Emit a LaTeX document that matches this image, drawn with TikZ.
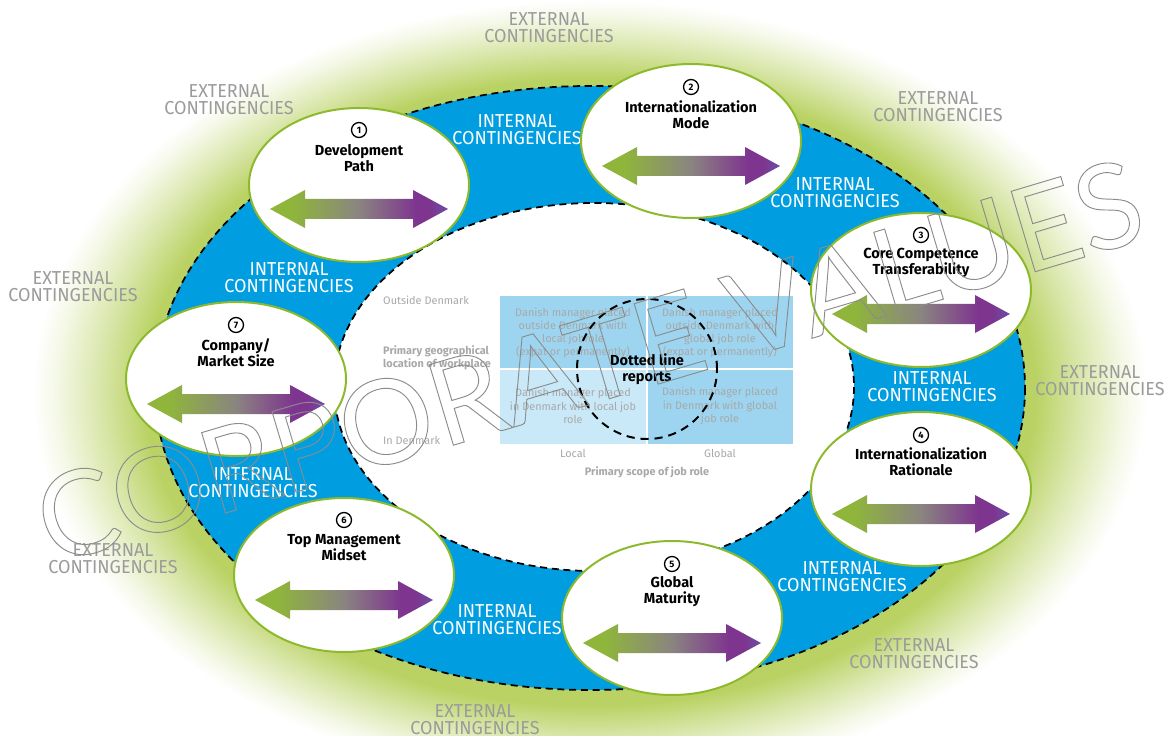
\documentclass[tikz,border=0pt]{standalone}
\usepackage{fontspec}
\setmainfont{Fira Sans}
\newfontfamily\condfont{Fira Sans}[FakeStretch=0.96]
\newfontfamily\cvfont{Lato}
\usetikzlibrary{shapes.geometric}
\definecolor{ringblue}{RGB}{0,158,224}
\definecolor{glowgreen}{RGB}{186,210,100}
\definecolor{bubgreen}{RGB}{141,185,45}
\definecolor{extgray}{RGB}{155,155,155}
\definecolor{chartgray}{RGB}{168,168,168}
\definecolor{boxdark}{RGB}{157,213,240}
\definecolor{boxlight}{RGB}{202,233,248}
\definecolor{agreen}{RGB}{143,182,58}
\definecolor{agray}{RGB}{138,132,128}
\definecolor{apurple}{RGB}{126,53,143}
\definecolor{atip}{RGB}{108,78,164}
\definecolor{cvgray}{RGB}{140,140,140}
\pgfdeclareradialshading{glow}{\pgfpoint{0bp}{0bp}}{color(0bp)=(glowgreen); color(19bp)=(glowgreen); color(20bp)=(glowgreen); color(22bp)=(glowgreen!55!white); color(24bp)=(glowgreen!15!white); color(25bp)=(white); color(50bp)=(white)}
\pgfdeclarehorizontalshading{arrowgrad}{100bp}{color(0bp)=(agreen); color(25bp)=(agreen); color(31bp)=(agreen); color(50bp)=(agray); color(66bp)=(apurple); color(70bp)=(apurple); color(75bp)=(atip); color(100bp)=(atip)}
\newcommand\outl{\special{pdf:literal direct 1 Tr 0.8 w}}
\tikzset{
  bubble/.style={ellipse, draw=bubgreen, line width=1.7pt, fill=white, minimum width=6.6cm, minimum height=4.62cm, inner sep=0pt},
  numc/.style={circle, draw=black, line width=1.1pt, minimum size=0.45cm, inner sep=0pt, font=\bfseries\fontsize{8}{8}\selectfont},
  ttl/.style={align=center, font=\bfseries\fontsize{12.4}{13.7}\selectfont, inner sep=0pt},
  intl/.style={align=center, text=white, font=\condfont\fontsize{16}{14.5}\selectfont, inner sep=0pt},
  extl/.style={intl, text=extgray},
  boxtxt/.style={align=center, text=chartgray, font=\fontsize{9.3}{11.3}\selectfont, inner sep=0pt},
  axtxt/.style={text=chartgray, font=\fontsize{9.3}{11.3}\selectfont, inner sep=0pt},
  axbold/.style={axtxt, font=\bfseries\fontsize{9.3}{11.3}\selectfont, align=left},
  ringdash/.style={line width=1.5pt, dash pattern=on 6pt off 4pt},
  darrow/.pic={\shade[shading=arrowgrad] (-89,0) -- (-54,-19) -- (-54,-10) -- (54,-10) -- (54,-19) -- (89,0) -- (54,19) -- (54,10) -- (-54,10) -- (-54,19) -- cycle;}
}
\begin{document}
\begin{tikzpicture}[x=0.03cm, y=-0.03cm]
\useasboundingbox (0,0) rectangle (1171,736);
\fill[white] (0,0) rectangle (1171,736);
% glow
\shade[shading=glow] (590,392) ellipse [x radius=557, y radius=392];
% ring
\fill[ringblue] (590,388) ellipse [x radius=435, y radius=302];
\draw[ringdash] (590,388) ellipse [x radius=435, y radius=302];
\fill[white] (594,387) ellipse [x radius=260, y radius=184];
\draw[ringdash] (594,387) ellipse [x radius=260, y radius=184];
% central chart
\fill[boxdark] (500,296) rectangle (793,444);
\fill[boxlight] (500,369) rectangle (647,444);
\draw[white, line width=1.2pt] (647,296) -- (647,444);
\draw[white, line width=1.2pt] (500,369) -- (793,369);
\node[boxtxt] (tl) at (573,333) {Danish manager placed\\outside Denmark with\\local jobrole\\(expat or permanently)};
\node[boxtxt] (tr) at (720,333) {Danish manager placed\\outside Denmark with\\global job role\\(expat or permanently)};
\node[boxtxt] (bl) at (573,406) {Danish manager placed\\in Denmark with local job\\role};
\node[boxtxt] (br) at (720,406) {Danish manager placed\\in Denmark with global\\job role};
\node[axtxt, anchor=west] (od) at (383,300) {Outside Denmark};
\node[axbold, anchor=west] (pg) at (383,358) {Primary geographical\\location of workplace};
\node[axtxt, anchor=west] (idk) at (383,440) {In Denmark};
\node[axtxt] (loc) at (573,453) {Local};
\node[axtxt] (glo) at (720,453) {Global};
\node[axbold] (ps) at (647,472) {Primary scope of job role};
\node[circle, draw=black, line width=1.7pt, dash pattern=on 7pt off 5pt, minimum size=4.2cm, inner sep=0pt] (dl) at (647,369) {};
\node[ttl] (dlt) at (647,369) {Dotted line\\reports};
% internal labels
\node[intl] (i1) at (517,130) {INTERNAL\\CONTINGENCIES};
\node[intl] (i2) at (835,193) {INTERNAL\\CONTINGENCIES};
\node[intl] (i3) at (289,278) {INTERNAL\\CONTINGENCIES};
\node[intl] (i4) at (932,387) {INTERNAL\\CONTINGENCIES};
\node[intl] (i5) at (253,483) {INTERNAL\\CONTINGENCIES};
\node[intl] (i6) at (842,577) {INTERNAL\\CONTINGENCIES};
\node[intl] (i7) at (497,620) {INTERNAL\\CONTINGENCIES};
% external labels
\node[extl] (x1) at (549,28) {EXTERNAL\\CONTINGENCIES};
\node[extl] (x2) at (229,100) {EXTERNAL\\CONTINGENCIES};
\node[extl] (x3) at (938,107) {EXTERNAL\\CONTINGENCIES};
\node[extl] (x4) at (73,287) {EXTERNAL\\CONTINGENCIES};
\node[extl] (x5) at (1100,381) {EXTERNAL\\CONTINGENCIES};
\node[extl] (x6) at (113,559) {EXTERNAL\\CONTINGENCIES};
\node[extl] (x7) at (914,654) {EXTERNAL\\CONTINGENCIES};
\node[extl] (x8) at (475,720) {EXTERNAL\\CONTINGENCIES};
% bubbles
\node[bubble] (e1) at (359,185) {};
\node[numc] (n1) at (359,130) {1};
\node[ttl] (t1) at (359,158) {Development\\Path};
\pic at (359,209) {darrow};
\node[bubble] (e2) at (691,141) {};
\node[numc] (n2) at (691,87) {2};
\node[ttl] (t2) at (691,115) {Internationalization\\Mode};
\pic at (691,166) {darrow};
\node[bubble] (e3) at (921,290) {};
\node[numc] (n3) at (921,235) {3};
\node[ttl] (t3) at (921,263) {Core Competence\\Transferability};
\pic at (921,314) {darrow};
\node[bubble] (e4) at (921,489) {};
\node[numc] (n4) at (921,435) {4};
\node[ttl] (t4) at (921,462) {Internationalization\\Rationale};
\pic at (921,514) {darrow};
\node[bubble] (e5) at (672,618) {};
\node[numc] (n5) at (672,564) {5};
\node[ttl] (t5) at (672,592) {Global\\Maturity};
\pic at (672,643) {darrow};
\node[bubble] (e6) at (344,575) {};
\node[numc] (n6) at (344,520) {6};
\node[ttl] (t6) at (344,548) {Top Management\\Midset};
\pic at (344,600) {darrow};
\node[bubble] (e7) at (236,379) {};
\node[numc] (n7) at (236,325) {7};
\node[ttl] (t7) at (236,353) {Company/\\Market Size};
\pic at (236,404) {darrow};
% corporate values outline
\node[rotate=16.6, text=cvgray, font=\cvfont\fontsize{100}{100}\selectfont, inner sep=0pt] (cv) at (589,361) {\outl CORPORATE VALUES};
\end{tikzpicture}
\end{document}
